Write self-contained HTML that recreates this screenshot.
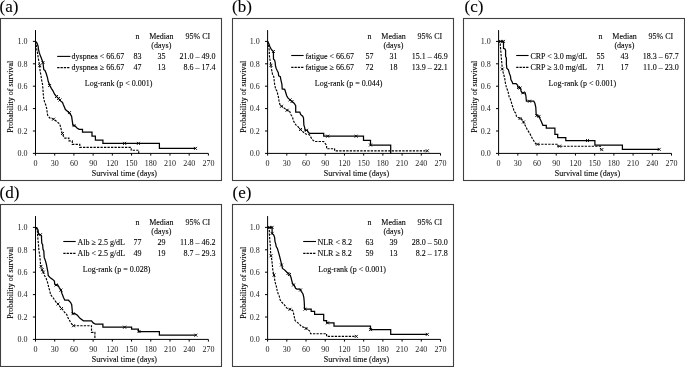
<!DOCTYPE html><html><head><meta charset="utf-8"><style>html,body{margin:0;padding:0;background:#fff;}svg{display:block;will-change:transform;}text{font-family:"Liberation Serif",serif;fill:#000;stroke:#000;stroke-width:0.1px;}text.tk{fill:#222;stroke:none;}</style></head><body>
<svg width="685" height="367" viewBox="0 0 685 367">
<rect x="0.5" y="18.5" width="221" height="162" fill="none" stroke="#404040" stroke-width="1.1"/>
<rect x="232.5" y="18.5" width="221" height="162" fill="none" stroke="#404040" stroke-width="1.1"/>
<rect x="463.5" y="18.5" width="221" height="162" fill="none" stroke="#404040" stroke-width="1.1"/>
<rect x="0.5" y="204.5" width="221" height="162" fill="none" stroke="#404040" stroke-width="1.1"/>
<rect x="232.5" y="204.5" width="221" height="162" fill="none" stroke="#404040" stroke-width="1.1"/>
<g transform="translate(0,0)"><text x="-0.5" y="11.8" font-size="17">(a)</text><path d="M35.5 30.1V153.4H208.4" fill="none" stroke="#000" stroke-width="1"/><path d="M32.9 153.4H35.5 M32.9 131H35.5 M32.9 108.6H35.5 M32.9 86.2H35.5 M32.9 63.8H35.5 M32.9 41.4H35.5 M35.5 153.4V155.6 M54.71 153.4V155.6 M73.92 153.4V155.6 M93.13 153.4V155.6 M112.34 153.4V155.6 M131.56 153.4V155.6 M150.77 153.4V155.6 M169.98 153.4V155.6 M189.19 153.4V155.6 M208.4 153.4V155.6" stroke="#000" stroke-width="1"/><text class="tk" x="27.6" y="156.2" font-size="8" text-anchor="end">0.0</text><text class="tk" x="27.6" y="133.8" font-size="8" text-anchor="end">0.2</text><text class="tk" x="27.6" y="111.4" font-size="8" text-anchor="end">0.4</text><text class="tk" x="27.6" y="89" font-size="8" text-anchor="end">0.6</text><text class="tk" x="27.6" y="66.6" font-size="8" text-anchor="end">0.8</text><text class="tk" x="27.6" y="44.2" font-size="8" text-anchor="end">1.0</text><text class="tk" x="35.5" y="165.8" font-size="8" text-anchor="middle">0</text><text class="tk" x="54.71" y="165.8" font-size="8" text-anchor="middle">30</text><text class="tk" x="73.92" y="165.8" font-size="8" text-anchor="middle">60</text><text class="tk" x="93.13" y="165.8" font-size="8" text-anchor="middle">90</text><text class="tk" x="112.34" y="165.8" font-size="8" text-anchor="middle">120</text><text class="tk" x="131.56" y="165.8" font-size="8" text-anchor="middle">150</text><text class="tk" x="150.77" y="165.8" font-size="8" text-anchor="middle">180</text><text class="tk" x="169.98" y="165.8" font-size="8" text-anchor="middle">210</text><text class="tk" x="189.19" y="165.8" font-size="8" text-anchor="middle">240</text><text class="tk" x="208.4" y="165.8" font-size="8" text-anchor="middle">270</text><text x="91.7" y="176" font-size="8">Survival time (days)</text><text transform="translate(13.4 96.8) rotate(-90)" font-size="8" text-anchor="middle">Probability of survival</text><text x="137.4" y="38.8" font-size="8" text-anchor="middle">n</text><text x="161.4" y="38.8" font-size="8" text-anchor="middle">Median</text><text x="161.3" y="47.6" font-size="8" text-anchor="middle">(days)</text><text x="185.5" y="38.8" font-size="8">95% CI</text><path d="M57.2 56.4H70.4" stroke="#000" stroke-width="1.1"/><text x="71.6" y="58.6" font-size="8">dyspnea < 66.67</text><text x="137.4" y="58.6" font-size="8" text-anchor="middle">83</text><text x="161.4" y="58.6" font-size="8" text-anchor="middle">35</text><text x="215.6" y="58.6" font-size="8" text-anchor="end">21.0 – 49.0</text><path d="M57.2 67.6H70.4" stroke="#000" stroke-width="1.1" stroke-dasharray="2.3 1"/><text x="71.6" y="70.3" font-size="8">dyspnea ≥ 66.67</text><text x="137.4" y="70.3" font-size="8" text-anchor="middle">47</text><text x="161.4" y="70.3" font-size="8" text-anchor="middle">13</text><text x="215.6" y="70.3" font-size="8" text-anchor="end">8.6 – 17.4</text><text x="84.8" y="85.6" font-size="8">Log-rank (p < 0.001)</text><path d="M35.5 41.4 L36 42.9 L36.5 47.8 L37.3 51.9 L37.7 54.4 L38.5 59.3 L38.9 61.7 L39.7 65.6 L40.1 71.4 L41 75.4 L41.5 79.5 L42.5 84.1 L42.9 88.6 L43.3 94.4 L43.7 98.4 L44.5 101.7 L45.8 105 L46.6 108 L47.6 115.1 L49.6 117.9 L53.7 119.2 L56.4 121.3 L59.8 124 L62 132.7 L63.4 136.1 L64.8 138.1 L68.9 138.1 L68.9 140.9 L72.3 140.9 L72.3 144.3 L79.8 144.3 L79.8 147.4 L131.2 147.4 L131.2 150.2 L138.7 150.2 L138.7 153.4" fill="none" stroke="#000" stroke-dasharray="2.3 1.2" stroke-width="1.15" stroke-linejoin="miter"/><path d="M52 117.7l3 3M52 120.7l3 -3 M61 132l3 3M61 135l3 -3 M38.2 64.1l3 3M38.2 67.1l3 -3" stroke="#000" stroke-width="0.9"/><path d="M35.5 41.4 L36.9 42.9 L38.1 46.2 L38.5 49.4 L39.3 52.7 L40.1 55 L41.4 58.3 L43 62.8 L43.8 69.7 L45 70.5 L46.3 73.8 L47.5 77.9 L48.2 81.3 L49.9 85.8 L51.5 88.6 L53.1 91.1 L54.4 93.9 L56 96 L58.4 98.4 L60.5 100.9 L62.5 102.5 L63.4 104.8 L65.4 109.5 L69.5 112.9 L71.6 116.3 L72.9 125.2 L75 125.9 L77 127.9 L79.1 129.3 L82.5 129.3 L82.5 132 L92 132 L92 136.1 L95.4 136.1 L95.4 140.2 L102.9 140.2 L102.9 143.4 L159.4 143.4 L159.4 148.4 L195.5 148.4" fill="none" stroke="#000" stroke-width="1.25" stroke-linejoin="miter"/><path d="M68 111.1l3 3M68 114.1l3 -3 M55 95l3 3M55 98l3 -3 M57 97l3 3M57 100l3 -3 M58.5 98.5l3 3M58.5 101.5l3 -3 M123.1 141.9l3 3M123.1 144.9l3 -3 M136.9 141.9l3 3M136.9 144.9l3 -3 M194 146.9l3 3M194 149.9l3 -3 M72.5 124.1l3 3M72.5 127.1l3 -3 M41.5 61l3 3M41.5 64l3 -3 M48.1 84l3 3M48.1 87l3 -3" stroke="#000" stroke-width="0.9"/></g>
<g transform="translate(232.1,0)"><text x="-0.1" y="11.8" font-size="17">(b)</text><path d="M35.5 30.1V153.4H208.4" fill="none" stroke="#000" stroke-width="1"/><path d="M32.9 153.4H35.5 M32.9 131H35.5 M32.9 108.6H35.5 M32.9 86.2H35.5 M32.9 63.8H35.5 M32.9 41.4H35.5 M35.5 153.4V155.6 M54.71 153.4V155.6 M73.92 153.4V155.6 M93.13 153.4V155.6 M112.34 153.4V155.6 M131.56 153.4V155.6 M150.77 153.4V155.6 M169.98 153.4V155.6 M189.19 153.4V155.6 M208.4 153.4V155.6" stroke="#000" stroke-width="1"/><text class="tk" x="27.6" y="156.2" font-size="8" text-anchor="end">0.0</text><text class="tk" x="27.6" y="133.8" font-size="8" text-anchor="end">0.2</text><text class="tk" x="27.6" y="111.4" font-size="8" text-anchor="end">0.4</text><text class="tk" x="27.6" y="89" font-size="8" text-anchor="end">0.6</text><text class="tk" x="27.6" y="66.6" font-size="8" text-anchor="end">0.8</text><text class="tk" x="27.6" y="44.2" font-size="8" text-anchor="end">1.0</text><text class="tk" x="35.5" y="165.8" font-size="8" text-anchor="middle">0</text><text class="tk" x="54.71" y="165.8" font-size="8" text-anchor="middle">30</text><text class="tk" x="73.92" y="165.8" font-size="8" text-anchor="middle">60</text><text class="tk" x="93.13" y="165.8" font-size="8" text-anchor="middle">90</text><text class="tk" x="112.34" y="165.8" font-size="8" text-anchor="middle">120</text><text class="tk" x="131.56" y="165.8" font-size="8" text-anchor="middle">150</text><text class="tk" x="150.77" y="165.8" font-size="8" text-anchor="middle">180</text><text class="tk" x="169.98" y="165.8" font-size="8" text-anchor="middle">210</text><text class="tk" x="189.19" y="165.8" font-size="8" text-anchor="middle">240</text><text class="tk" x="208.4" y="165.8" font-size="8" text-anchor="middle">270</text><text x="91.7" y="176" font-size="8">Survival time (days)</text><text transform="translate(13.4 96.8) rotate(-90)" font-size="8" text-anchor="middle">Probability of survival</text><text x="137.4" y="38.8" font-size="8" text-anchor="middle">n</text><text x="161.4" y="38.8" font-size="8" text-anchor="middle">Median</text><text x="161.3" y="47.6" font-size="8" text-anchor="middle">(days)</text><text x="185.5" y="38.8" font-size="8">95% CI</text><path d="M59.1 55.5H71.5" stroke="#000" stroke-width="1.1"/><text x="73.3" y="58.6" font-size="8">fatigue < 66.67</text><text x="137.4" y="58.6" font-size="8" text-anchor="middle">57</text><text x="161.4" y="58.6" font-size="8" text-anchor="middle">31</text><text x="215.6" y="58.6" font-size="8" text-anchor="end">15.1 – 46.9</text><path d="M59.1 67.4H71.5" stroke="#000" stroke-width="1.1" stroke-dasharray="2.3 1"/><text x="73.3" y="70.3" font-size="8">fatigue ≥ 66.67</text><text x="137.4" y="70.3" font-size="8" text-anchor="middle">72</text><text x="161.4" y="70.3" font-size="8" text-anchor="middle">18</text><text x="215.6" y="70.3" font-size="8" text-anchor="end">13.9 – 22.1</text><text x="82.7" y="85.6" font-size="8">Log-rank (p = 0.044)</text><path d="M35.5 41.4 L36.4 44.5 L36.8 47.8 L37.2 50.3 L37.2 54.4 L37.6 58.4 L38.4 62.5 L38.8 65.8 L39.6 70.2 L40.4 74.3 L41.7 76.7 L42.1 80.8 L42.5 84.1 L43.6 89.3 L44.8 90.9 L45.6 94.2 L46.4 97.4 L46.9 100.7 L47.7 104 L48.1 105.6 L49.7 106.4 L52.2 108.1 L54.6 110.1 L57.1 110.5 L57.9 112.1 L58.7 114.5 L60.4 117 L61.2 120.3 L62.4 122.7 L64 125.2 L66.1 126.8 L68.1 129.3 L70.2 130.9 L72.2 133.3 L74.3 134.2 L76.3 134.2 L77.5 135 L79.2 138 L79.6 139 L82.5 141.5 L91.6 141.5 L94.5 145.3 L94.5 148.7 L102.5 148.7 L102.5 150.8 L195.2 150.8" fill="none" stroke="#000" stroke-dasharray="2.3 1.2" stroke-width="1.15" stroke-linejoin="miter"/><path d="M193.7 149.3l3 3M193.7 152.3l3 -3 M53.4 108.8l3 3M53.4 111.8l3 -3 M37.3 63.8l3 3M37.3 66.8l3 -3 M47.9 104.8l3 3M47.9 107.8l3 -3 M66.9 128l3 3M66.9 131l3 -3" stroke="#000" stroke-width="0.9"/><path d="M35.5 41.4 L36.8 43.7 L37.6 46.2 L38.8 48.6 L40 50.3 L41.3 51.5 L41.4 59.3 L42.5 60.1 L43.1 62.5 L43.3 65.3 L44.1 68.5 L45.3 71 L46.2 72.6 L46.6 75.9 L48.2 76.7 L49 80.8 L49.8 84.1 L50.1 88.9 L52.6 89.3 L53.4 91.7 L54.6 95.8 L55.8 97.9 L57.9 99.9 L59.9 101.5 L62 103.2 L63.6 105.6 L63.6 112.1 L67.7 112.1 L68.5 114.5 L70.6 116.2 L71.4 117.8 L71.8 125.2 L72.6 127.6 L73 130.5 L75.1 130.1 L76.3 132.5 L77.5 133.3 L91.6 133.3 L91.6 136.2 L131.4 136.2 L131.4 140.4 L138.4 140.4 L138.4 145 L158.6 145 L158.6 153.4" fill="none" stroke="#000" stroke-width="1.25" stroke-linejoin="miter"/><path d="M94.1 134.7l3 3M94.1 137.7l3 -3 M122.5 134.7l3 3M122.5 137.7l3 -3 M136.9 143.5l3 3M136.9 146.5l3 -3 M56.4 98.4l3 3M56.4 101.4l3 -3 M58.4 100l3 3M58.4 103l3 -3 M39.8 50l3 3M39.8 53l3 -3 M72.9 128.8l3 3M72.9 131.8l3 -3" stroke="#000" stroke-width="0.9"/></g>
<g transform="translate(463.1,0)"><text x="1.4" y="11.8" font-size="17">(c)</text><path d="M35.5 30.1V153.4H208.4" fill="none" stroke="#000" stroke-width="1"/><path d="M32.9 153.4H35.5 M32.9 131H35.5 M32.9 108.6H35.5 M32.9 86.2H35.5 M32.9 63.8H35.5 M32.9 41.4H35.5 M35.5 153.4V155.6 M54.71 153.4V155.6 M73.92 153.4V155.6 M93.13 153.4V155.6 M112.34 153.4V155.6 M131.56 153.4V155.6 M150.77 153.4V155.6 M169.98 153.4V155.6 M189.19 153.4V155.6 M208.4 153.4V155.6" stroke="#000" stroke-width="1"/><text class="tk" x="27.6" y="156.2" font-size="8" text-anchor="end">0.0</text><text class="tk" x="27.6" y="133.8" font-size="8" text-anchor="end">0.2</text><text class="tk" x="27.6" y="111.4" font-size="8" text-anchor="end">0.4</text><text class="tk" x="27.6" y="89" font-size="8" text-anchor="end">0.6</text><text class="tk" x="27.6" y="66.6" font-size="8" text-anchor="end">0.8</text><text class="tk" x="27.6" y="44.2" font-size="8" text-anchor="end">1.0</text><text class="tk" x="35.5" y="165.8" font-size="8" text-anchor="middle">0</text><text class="tk" x="54.71" y="165.8" font-size="8" text-anchor="middle">30</text><text class="tk" x="73.92" y="165.8" font-size="8" text-anchor="middle">60</text><text class="tk" x="93.13" y="165.8" font-size="8" text-anchor="middle">90</text><text class="tk" x="112.34" y="165.8" font-size="8" text-anchor="middle">120</text><text class="tk" x="131.56" y="165.8" font-size="8" text-anchor="middle">150</text><text class="tk" x="150.77" y="165.8" font-size="8" text-anchor="middle">180</text><text class="tk" x="169.98" y="165.8" font-size="8" text-anchor="middle">210</text><text class="tk" x="189.19" y="165.8" font-size="8" text-anchor="middle">240</text><text class="tk" x="208.4" y="165.8" font-size="8" text-anchor="middle">270</text><text x="91.7" y="176" font-size="8">Survival time (days)</text><text transform="translate(13.4 96.8) rotate(-90)" font-size="8" text-anchor="middle">Probability of survival</text><text x="137.4" y="38.8" font-size="8" text-anchor="middle">n</text><text x="161.4" y="38.8" font-size="8" text-anchor="middle">Median</text><text x="161.3" y="47.6" font-size="8" text-anchor="middle">(days)</text><text x="185.5" y="38.8" font-size="8">95% CI</text><path d="M53.1 55.5H65.5" stroke="#000" stroke-width="1.1"/><text x="67.3" y="58.6" font-size="8">CRP < 3.0 mg/dL</text><text x="137.4" y="58.6" font-size="8" text-anchor="middle">55</text><text x="161.4" y="58.6" font-size="8" text-anchor="middle">43</text><text x="215.6" y="58.6" font-size="8" text-anchor="end">18.3 – 67.7</text><path d="M53.1 67.4H65.5" stroke="#000" stroke-width="1.1" stroke-dasharray="2.3 1"/><text x="67.3" y="70.3" font-size="8">CRP ≥ 3.0 mg/dL</text><text x="137.4" y="70.3" font-size="8" text-anchor="middle">71</text><text x="161.4" y="70.3" font-size="8" text-anchor="middle">17</text><text x="215.6" y="70.3" font-size="8" text-anchor="end">11.0 – 23.0</text><text x="85.5" y="85.6" font-size="8">Log-rank (p < 0.001)</text><path d="M35.5 41.4 L37.2 41.8 L37.2 45 L37.6 49.9 L38 54.8 L38.4 59.7 L38.8 64.1 L39.2 69 L40 72.3 L40.9 75.5 L41.7 78.8 L42.1 82.1 L43.2 86.9 L44.4 90.2 L45.2 92.6 L46 96.7 L47.3 99.2 L48.1 101.6 L48.9 104.9 L50.2 108.2 L51 111.4 L52.6 113.1 L53.4 116.4 L55.1 117.6 L58.3 118.8 L60 121.3 L61.6 124.5 L63.3 127.8 L64.1 129.4 L67.2 134.4 L69.5 139 L72.9 144.2 L94.6 144.2 L94.6 146.2 L137.4 146.2 L137.4 149.4" fill="none" stroke="#000" stroke-dasharray="2.3 1.2" stroke-width="1.15" stroke-linejoin="miter"/><path d="M72.9 142.7l3 3M72.9 145.7l3 -3 M94.9 144.7l3 3M94.9 147.7l3 -3 M137.2 148.1l3 3M137.2 151.1l3 -3 M55.4 117l3 3M55.4 120l3 -3 M37.7 67.5l3 3M37.7 70.5l3 -3 M58.9 120.5l3 3M58.9 123.5l3 -3" stroke="#000" stroke-width="0.9"/><path d="M35.5 41.4 L40.4 41.4 L40.4 48.3 L42.1 49.1 L42.5 50.7 L42.5 56.4 L43.3 58.1 L43.3 64.1 L43.7 68.2 L45.3 69.8 L46.2 73.1 L47.4 76.4 L47.8 79.6 L49 81.7 L49.7 83.6 L53 83.6 L54.6 85.3 L55 87.7 L57.5 88.1 L57.9 91 L59.1 93 L62 92.6 L62.8 95.9 L63.3 101.2 L70.6 101.2 L71.8 103.3 L72.7 107.4 L73.1 114.7 L74.3 115.9 L75.9 116.4 L76.9 118.8 L78.1 121.3 L79.8 125.3 L83.2 125.3 L83.2 128.2 L91.8 128.2 L91.8 134.4 L94.6 134.4 L94.6 137.6 L102.7 137.6 L102.7 140.5 L131.8 140.5 L131.8 145 L159.3 145 L159.3 149.4 L196.1 149.4" fill="none" stroke="#000" stroke-width="1.25" stroke-linejoin="miter"/><path d="M35.9 39.9l3 3M35.9 42.9l3 -3 M38.9 39.9l3 3M38.9 42.9l3 -3 M122.9 139l3 3M122.9 142l3 -3 M194.6 147.9l3 3M194.6 150.9l3 -3 M53.9 86l3 3M53.9 89l3 -3 M55.4 86.5l3 3M55.4 89.5l3 -3 M58.4 91.3l3 3M58.4 94.3l3 -3 M72.2 114l3 3M72.2 117l3 -3 M74.4 114.9l3 3M74.4 117.9l3 -3 M64.9 99.7l3 3M64.9 102.7l3 -3" stroke="#000" stroke-width="0.9"/></g>
<g transform="translate(0,186)"><text x="-0.5" y="11.8" font-size="17">(d)</text><path d="M35.5 30.1V153.4H208.4" fill="none" stroke="#000" stroke-width="1"/><path d="M32.9 153.4H35.5 M32.9 131H35.5 M32.9 108.6H35.5 M32.9 86.2H35.5 M32.9 63.8H35.5 M32.9 41.4H35.5 M35.5 153.4V155.6 M54.71 153.4V155.6 M73.92 153.4V155.6 M93.13 153.4V155.6 M112.34 153.4V155.6 M131.56 153.4V155.6 M150.77 153.4V155.6 M169.98 153.4V155.6 M189.19 153.4V155.6 M208.4 153.4V155.6" stroke="#000" stroke-width="1"/><text class="tk" x="27.6" y="156.2" font-size="8" text-anchor="end">0.0</text><text class="tk" x="27.6" y="133.8" font-size="8" text-anchor="end">0.2</text><text class="tk" x="27.6" y="111.4" font-size="8" text-anchor="end">0.4</text><text class="tk" x="27.6" y="89" font-size="8" text-anchor="end">0.6</text><text class="tk" x="27.6" y="66.6" font-size="8" text-anchor="end">0.8</text><text class="tk" x="27.6" y="44.2" font-size="8" text-anchor="end">1.0</text><text class="tk" x="35.5" y="165.8" font-size="8" text-anchor="middle">0</text><text class="tk" x="54.71" y="165.8" font-size="8" text-anchor="middle">30</text><text class="tk" x="73.92" y="165.8" font-size="8" text-anchor="middle">60</text><text class="tk" x="93.13" y="165.8" font-size="8" text-anchor="middle">90</text><text class="tk" x="112.34" y="165.8" font-size="8" text-anchor="middle">120</text><text class="tk" x="131.56" y="165.8" font-size="8" text-anchor="middle">150</text><text class="tk" x="150.77" y="165.8" font-size="8" text-anchor="middle">180</text><text class="tk" x="169.98" y="165.8" font-size="8" text-anchor="middle">210</text><text class="tk" x="189.19" y="165.8" font-size="8" text-anchor="middle">240</text><text class="tk" x="208.4" y="165.8" font-size="8" text-anchor="middle">270</text><text x="91.7" y="176" font-size="8">Survival time (days)</text><text transform="translate(13.4 96.8) rotate(-90)" font-size="8" text-anchor="middle">Probability of survival</text><text x="137.4" y="38.8" font-size="8" text-anchor="middle">n</text><text x="161.4" y="38.8" font-size="8" text-anchor="middle">Median</text><text x="161.3" y="47.6" font-size="8" text-anchor="middle">(days)</text><text x="185.5" y="38.8" font-size="8">95% CI</text><path d="M63.3 55.5H75.7" stroke="#000" stroke-width="1.1"/><text x="77.5" y="58.6" font-size="8">Alb ≥ 2.5 g/dL</text><text x="137.4" y="58.6" font-size="8" text-anchor="middle">77</text><text x="161.4" y="58.6" font-size="8" text-anchor="middle">29</text><text x="215.6" y="58.6" font-size="8" text-anchor="end">11.8 – 46.2</text><path d="M63.3 67.4H75.7" stroke="#000" stroke-width="1.1" stroke-dasharray="2.3 1"/><text x="77.5" y="70.3" font-size="8">Alb < 2.5 g/dL</text><text x="137.4" y="70.3" font-size="8" text-anchor="middle">49</text><text x="161.4" y="70.3" font-size="8" text-anchor="middle">19</text><text x="215.6" y="70.3" font-size="8" text-anchor="end">8.7 – 29.3</text><text x="82.8" y="85.6" font-size="8">Log-rank (p = 0.028)</text><path d="M35.5 41.4 L37.3 44.2 L37.7 50.7 L38.1 54.8 L38.5 58.9 L38.9 64.1 L39.7 69 L40.1 73.1 L40.5 78 L41 80.4 L42.2 83.7 L43.3 86.1 L44.5 89.4 L46.2 92.6 L47.4 95.9 L48.2 99.2 L49 102.4 L49.6 104 L50.5 108.1 L51.3 109.7 L52.9 111.4 L54.5 113.8 L56.2 116.3 L58.6 118.7 L60.3 121.2 L62.7 123.6 L64.4 126.1 L66.8 128.5 L67.6 131 L68.9 133.4 L70.9 136.9 L73.2 139.7 L91.5 139.7 L91.5 146.3 L94.9 146.3 L94.9 153.4" fill="none" stroke="#000" stroke-dasharray="2.3 1.2" stroke-width="1.15" stroke-linejoin="miter"/><path d="M72 138.2l3 3M72 141.2l3 -3 M39.5 78.9l3 3M39.5 81.9l3 -3 M40.7 82.2l3 3M40.7 85.2l3 -3 M41.8 84.6l3 3M41.8 87.6l3 -3 M56.5 116.5l3 3M56.5 119.5l3 -3 M60 121l3 3M60 124l3 -3" stroke="#000" stroke-width="0.9"/><path d="M35.5 41.4 L36.9 41.7 L38.1 44.2 L38.5 48.3 L40.5 48.7 L41.4 49.9 L41.8 57.3 L42.6 58.5 L43 63.3 L43.8 64.9 L44.2 71.4 L45.4 74.7 L46.3 78 L47.1 82.1 L47.9 86.2 L48.2 89.4 L50.3 91.8 L52.7 93.4 L54.4 95.1 L54.8 98.4 L56 99.2 L57.6 98.8 L59.3 101.6 L60.9 104.1 L61.9 107.3 L63.5 111.4 L64.8 114.2 L68.4 114.2 L70.5 116.3 L71.7 118.7 L72.1 122.8 L72.5 127.7 L75 127.7 L77.4 129.3 L80 132.3 L83.4 134.8 L91.5 134.8 L93.2 136.9 L95.5 138.2 L102.9 138.2 L102.9 141.2 L131.6 141.2 L131.6 143.2 L138.4 143.2 L138.4 145.5 L159.4 145.5 L159.4 149.2 L195.9 149.2" fill="none" stroke="#000" stroke-width="1.25" stroke-linejoin="miter"/><path d="M123.1 139.7l3 3M123.1 142.7l3 -3 M137.5 144l3 3M137.5 147l3 -3 M194.4 147.7l3 3M194.4 150.7l3 -3 M59.4 102.6l3 3M59.4 105.6l3 -3 M71.5 126.2l3 3M71.5 129.2l3 -3 M39 47.2l3 3M39 50.2l3 -3 M54.5 97.5l3 3M54.5 100.5l3 -3" stroke="#000" stroke-width="0.9"/></g>
<g transform="translate(232.1,186)"><text x="0.4" y="11.8" font-size="17">(e)</text><path d="M35.5 30.1V153.4H208.4" fill="none" stroke="#000" stroke-width="1"/><path d="M32.9 153.4H35.5 M32.9 131H35.5 M32.9 108.6H35.5 M32.9 86.2H35.5 M32.9 63.8H35.5 M32.9 41.4H35.5 M35.5 153.4V155.6 M54.71 153.4V155.6 M73.92 153.4V155.6 M93.13 153.4V155.6 M112.34 153.4V155.6 M131.56 153.4V155.6 M150.77 153.4V155.6 M169.98 153.4V155.6 M189.19 153.4V155.6 M208.4 153.4V155.6" stroke="#000" stroke-width="1"/><text class="tk" x="27.6" y="156.2" font-size="8" text-anchor="end">0.0</text><text class="tk" x="27.6" y="133.8" font-size="8" text-anchor="end">0.2</text><text class="tk" x="27.6" y="111.4" font-size="8" text-anchor="end">0.4</text><text class="tk" x="27.6" y="89" font-size="8" text-anchor="end">0.6</text><text class="tk" x="27.6" y="66.6" font-size="8" text-anchor="end">0.8</text><text class="tk" x="27.6" y="44.2" font-size="8" text-anchor="end">1.0</text><text class="tk" x="35.5" y="165.8" font-size="8" text-anchor="middle">0</text><text class="tk" x="54.71" y="165.8" font-size="8" text-anchor="middle">30</text><text class="tk" x="73.92" y="165.8" font-size="8" text-anchor="middle">60</text><text class="tk" x="93.13" y="165.8" font-size="8" text-anchor="middle">90</text><text class="tk" x="112.34" y="165.8" font-size="8" text-anchor="middle">120</text><text class="tk" x="131.56" y="165.8" font-size="8" text-anchor="middle">150</text><text class="tk" x="150.77" y="165.8" font-size="8" text-anchor="middle">180</text><text class="tk" x="169.98" y="165.8" font-size="8" text-anchor="middle">210</text><text class="tk" x="189.19" y="165.8" font-size="8" text-anchor="middle">240</text><text class="tk" x="208.4" y="165.8" font-size="8" text-anchor="middle">270</text><text x="91.7" y="176" font-size="8">Survival time (days)</text><text transform="translate(13.4 96.8) rotate(-90)" font-size="8" text-anchor="middle">Probability of survival</text><text x="137.4" y="38.8" font-size="8" text-anchor="middle">n</text><text x="161.4" y="38.8" font-size="8" text-anchor="middle">Median</text><text x="161.3" y="47.6" font-size="8" text-anchor="middle">(days)</text><text x="185.5" y="38.8" font-size="8">95% CI</text><path d="M71.1 55.5H83.9" stroke="#000" stroke-width="1.1"/><text x="85.3" y="58.6" font-size="8">NLR < 8.2</text><text x="137.4" y="58.6" font-size="8" text-anchor="middle">63</text><text x="161.4" y="58.6" font-size="8" text-anchor="middle">39</text><text x="215.6" y="58.6" font-size="8" text-anchor="end">28.0 – 50.0</text><path d="M71.1 67.4H83.9" stroke="#000" stroke-width="1.1" stroke-dasharray="2.3 1"/><text x="85.3" y="70.3" font-size="8">NLR ≥ 8.2</text><text x="137.4" y="70.3" font-size="8" text-anchor="middle">59</text><text x="161.4" y="70.3" font-size="8" text-anchor="middle">13</text><text x="215.6" y="70.3" font-size="8" text-anchor="end">8.2 – 17.8</text><text x="86.2" y="85.6" font-size="8">Log-rank (p < 0.001)</text><path d="M35.5 41.4 L37.2 42.5 L37.2 47.4 L37.6 52.4 L38 57.3 L38.4 62.2 L38.4 64.9 L38.8 69.8 L39.6 73.1 L40 76.4 L40.4 80.4 L40.8 85.3 L42 89.4 L42.4 92.6 L43.2 96.7 L44.3 100.6 L45.1 104.7 L45.9 107.2 L47.2 110.4 L48 113.7 L49.6 116.2 L52.1 118.6 L54.5 121.9 L57 123.5 L59.4 123.1 L61.1 125.2 L61.5 127.6 L63 134.6 L66.5 137.4 L69.3 140.3 L72.8 141.7 L75.6 143.2 L77.9 145.5 L78.5 147.7 L94.5 147.7 L94.5 150.4 L124 150.4" fill="none" stroke="#000" stroke-dasharray="2.3 1.2" stroke-width="1.15" stroke-linejoin="miter"/><path d="M122.7 148.9l3 3M122.7 151.9l3 -3 M72.4 141l3 3M72.4 144l3 -3 M37.4 68.3l3 3M37.4 71.3l3 -3 M40.4 87.5l3 3M40.4 90.5l3 -3 M56.4 121.8l3 3M56.4 124.8l3 -3" stroke="#000" stroke-width="0.9"/><path d="M35.5 41.4 L40 41.4 L40 47.4 L41.7 49.1 L42.5 51.5 L42.9 55.6 L43.7 58.1 L44.1 60.5 L45.3 62.5 L46.2 65.7 L47.4 69.8 L48.2 73.1 L49 76.4 L49.8 79.6 L50.4 82.5 L52.7 84.1 L53 84.5 L55.5 86.9 L57.5 88.5 L58.8 91 L59.6 94.3 L60.4 97.5 L62 99.2 L63.5 102.3 L64.8 103.1 L68 103.1 L69.2 105.5 L70.9 108 L71.7 111.3 L72.1 115.4 L72.5 123.2 L79.1 123.2 L79.1 125.4 L82.5 125.4 L82.5 128.3 L91.6 128.3 L91.6 134.6 L94.5 134.6 L94.5 136.9 L101.9 136.9 L101.9 140.1 L138.4 140.1 L138.4 143.6 L158.6 143.6 L158.6 148.4 L195.2 148.4" fill="none" stroke="#000" stroke-width="1.25" stroke-linejoin="miter"/><path d="M35.9 39.9l3 3M35.9 42.9l3 -3 M38.5 39.9l3 3M38.5 42.9l3 -3 M38.5 45.9l3 3M38.5 48.9l3 -3 M136.9 142.1l3 3M136.9 145.1l3 -3 M193.7 146.9l3 3M193.7 149.9l3 -3 M93.9 135.4l3 3M93.9 138.4l3 -3 M71.4 121.7l3 3M71.4 124.7l3 -3 M54.4 86l3 3M54.4 89l3 -3 M55.9 87l3 3M55.9 90l3 -3 M47.9 77.5l3 3M47.9 80.5l3 -3 M59.9 97.5l3 3M59.9 100.5l3 -3 M66.9 102.5l3 3M66.9 105.5l3 -3" stroke="#000" stroke-width="0.9"/></g>
</svg></body></html>
